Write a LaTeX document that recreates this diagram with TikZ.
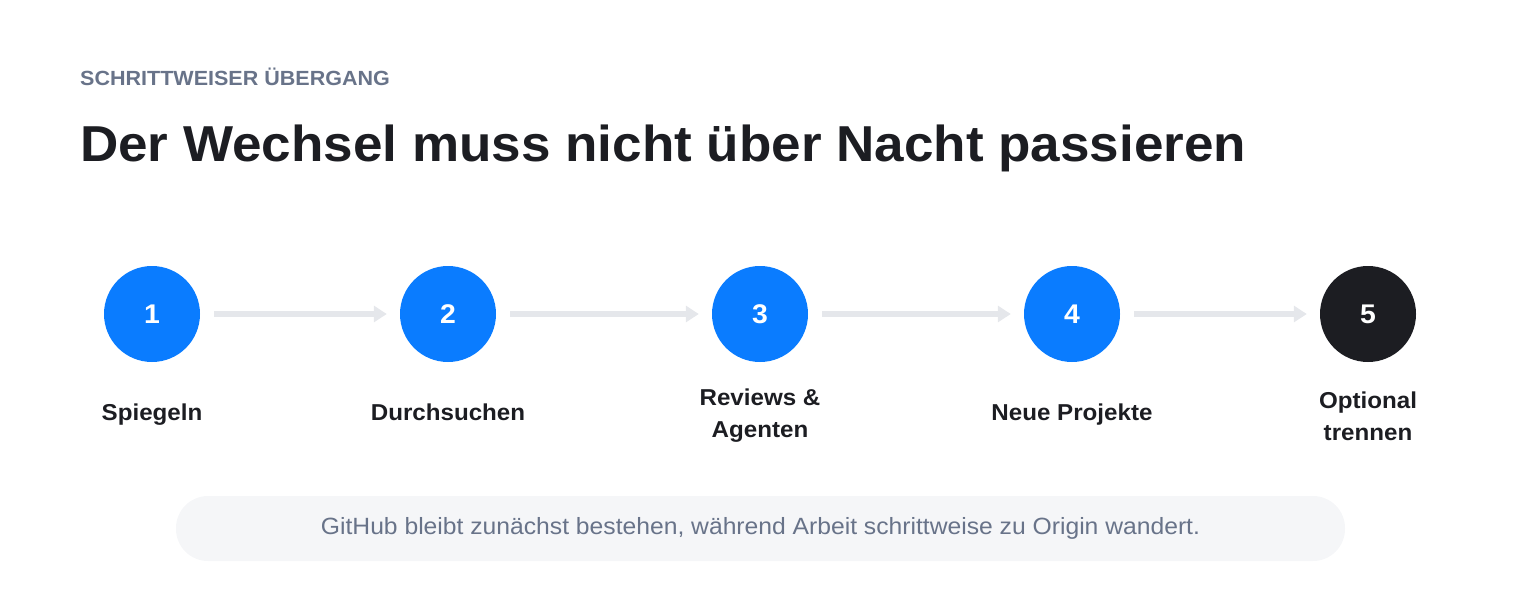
\documentclass[tikz,border=0pt]{standalone}
\usepackage{fontspec}
\setmainfont{Liberation Sans}[FakeStretch=1.05]
\usetikzlibrary{arrows.meta}
\definecolor{blueC}{HTML}{0A7CFF}
\definecolor{darkC}{HTML}{1C1D22}
\definecolor{grayT}{HTML}{687389}
\definecolor{lineC}{HTML}{E5E7EB}
\definecolor{pillC}{HTML}{F5F6F8}
\tikzset{
  stepcircle/.style={circle, minimum size=96pt, inner sep=0pt, fill=blueC, text=white, font=\fontsize{27}{30}\selectfont\bfseries},
  steplabel/.style={text=darkC, font=\fontsize{23}{32}\selectfont\bfseries, align=center},
  onelabel/.style={steplabel, text height=17pt, text depth=5pt},
  conn/.style={draw=lineC, line width=6pt, -{Triangle[length=13pt,width=16pt]}, shorten <=14pt, shorten >=13pt}
}
\begin{document}
\begin{tikzpicture}[x=1pt,y=-1pt]
\useasboundingbox (0,0) rectangle (1520,600);
\node[anchor=base west, inner sep=0pt, text=grayT, font=\fontsize{20.5}{22}\selectfont\bfseries] (kicker) at (80,85.5) {SCHRITTWEISER ÜBERGANG};
\node[anchor=base west, inner sep=0pt, text=darkC, font=\fontsize{50.5}{58}\selectfont\bfseries] (title) at (80,161) {Der Wechsel muss nicht über Nacht passieren};

\node[stepcircle] (s1) at (152,314) {1};
\node[stepcircle] (s2) at (448,314) {2};
\node[stepcircle] (s3) at (760,314) {3};
\node[stepcircle] (s4) at (1072,314) {4};
\node[stepcircle, fill=darkC] (s5) at (1368,314) {5};

\draw[conn] (s1) -- (s2);
\draw[conn] (s2) -- (s3);
\draw[conn] (s3) -- (s4);
\draw[conn] (s4) -- (s5);

\node[onelabel] (l1) at (152,414) {Spiegeln};
\node[onelabel] (l2) at (448,414) {Durchsuchen};
\node[steplabel] (l3) at (760,416) {Reviews \&\\Agenten};
\node[onelabel] (l4) at (1072,414) {Neue Projekte};
\node[steplabel] (l5) at (1368,416) {Optional\\trennen};

\node[fill=pillC, rounded corners=32pt, minimum width=1169pt, minimum height=65pt, inner sep=0pt] (pill) at (760.5,528.5) {};
\node[text=grayT, font=\fontsize{23.5}{26}\selectfont] (note) at (pill) {GitHub bleibt zunächst bestehen, während Arbeit schrittweise zu Origin wandert.};
\end{tikzpicture}
\end{document}
